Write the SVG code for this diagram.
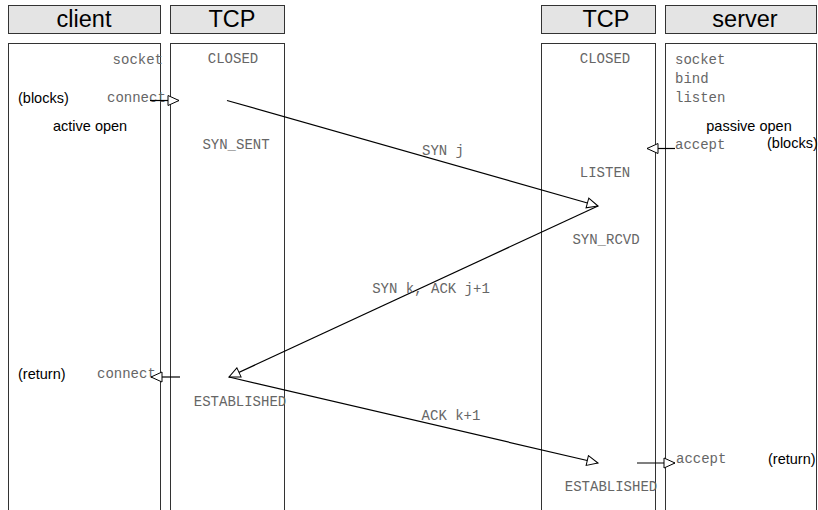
<svg xmlns="http://www.w3.org/2000/svg" width="818" height="510" viewBox="0 0 818 510">
<style>
.hdr{fill:#e4e4e4;stroke:#333;stroke-width:1}
.body{fill:#fff;stroke:#333;stroke-width:1}
.ht{font-family:"Liberation Sans",Arial,sans-serif;font-size:23.5px;fill:#000;text-anchor:middle}
.m{font-family:"Liberation Mono","Courier New",monospace;font-size:14px;fill:#666}
.s{font-family:"Liberation Sans",Arial,sans-serif;font-size:14.5px;fill:#000}
.c{text-anchor:middle}
.e{text-anchor:end}
.ln{fill:none;stroke:#000;stroke-width:1.2}
</style>
<defs>
<marker id="ah" markerUnits="userSpaceOnUse" markerWidth="14" markerHeight="12" refX="11" refY="5" orient="auto" viewBox="-1 -1 14 12">
<path d="M0,0 L11,5 L0,10 Z" fill="#fff" stroke="#000" stroke-width="1"/>
</marker>
</defs>
<rect width="818" height="510" fill="#fff"/>
<g id="client">
<rect class="hdr" x="8.5" y="5.5" width="152" height="28"/>
<text class="ht" x="84" y="27">client</text>
<rect class="body" x="8.5" y="43.5" width="152" height="480"/>
<text class="m e" x="163" y="64">socket</text>
<text class="m" x="107" y="102">connect</text>
<text class="s" x="18" y="103">(blocks)</text>
<text class="s" x="53" y="131">active open</text>
<text class="m" x="97" y="378">connect</text>
<text class="s" x="18" y="379">(return)</text>
</g>
<g id="tcp-client">
<rect class="hdr" x="170.5" y="5.5" width="114" height="28"/>
<text class="ht" x="232" y="27">TCP</text>
<rect class="body" x="170.5" y="43.5" width="114" height="480"/>
<text class="m c" x="233" y="63">CLOSED</text>
<text class="m c" x="236" y="149">SYN_SENT</text>
<text class="m c" x="240" y="406">ESTABLISHED</text>
</g>
<g id="tcp-server">
<rect class="hdr" x="541.5" y="5.5" width="114" height="28"/>
<text class="ht" x="606" y="27">TCP</text>
<rect class="body" x="541.5" y="43.5" width="114" height="480"/>
<text class="m c" x="605" y="63">CLOSED</text>
<text class="m c" x="605" y="177">LISTEN</text>
<text class="m c" x="606" y="244">SYN_RCVD</text>
<text class="m c" x="611" y="491">ESTABLISHED</text>
</g>
<g id="server">
<rect class="hdr" x="665.5" y="5.5" width="151" height="28"/>
<text class="ht" x="745" y="27">server</text>
<rect class="body" x="665.5" y="43.5" width="151" height="480"/>
<text class="m" x="675" y="64">socket</text>
<text class="m" x="675" y="83">bind</text>
<text class="m" x="675" y="102">listen</text>
<text class="s c" x="749" y="131">passive open</text>
<text class="m" x="675" y="149">accept</text>
<text class="s" x="767" y="148">(blocks)</text>
<text class="m" x="676" y="463">accept</text>
<text class="s" x="768" y="464">(return)</text>
</g>
<g id="connectors">
<line class="ln" x1="150" y1="100.5" x2="179" y2="100.5" marker-end="url(#ah)"/>
<line class="ln" x1="675" y1="148.5" x2="647" y2="148.5" marker-end="url(#ah)"/>
<line class="ln" x1="180" y1="377" x2="151" y2="377" marker-end="url(#ah)"/>
<line class="ln" x1="637" y1="463" x2="675" y2="463" marker-end="url(#ah)"/>
<line class="ln" x1="227" y1="100.5" x2="598" y2="206" marker-end="url(#ah)"/>
<line class="ln" x1="598" y1="206" x2="229" y2="377" marker-end="url(#ah)"/>
<line class="ln" x1="229" y1="377" x2="598" y2="463" marker-end="url(#ah)"/>
<text class="m c" x="443" y="155">SYN j</text>
<text class="m c" x="431" y="293">SYN k, ACK j+1</text>
<text class="m c" x="451" y="420">ACK k+1</text>
</g>
</svg>
